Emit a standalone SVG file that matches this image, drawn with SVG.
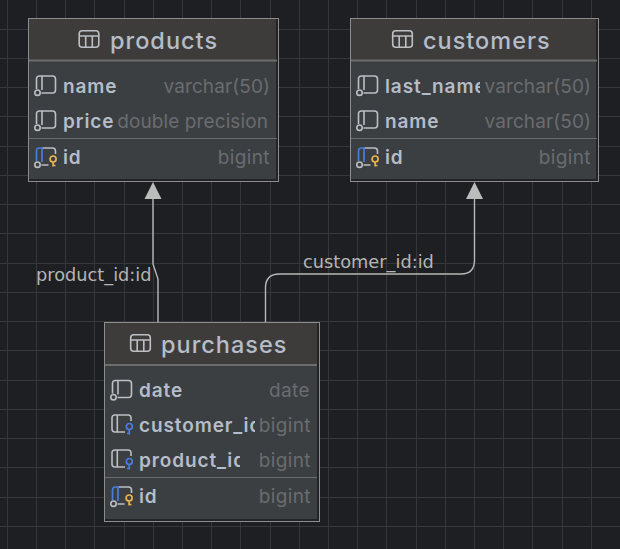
<svg xmlns="http://www.w3.org/2000/svg" width="620" height="549" viewBox="0 0 620 549">
<style>
.grid{stroke:#36373a;stroke-width:1;fill:none}
.box{fill:#3c3f41;stroke:#8c8c8c;stroke-width:1}
.edge{fill:none;stroke:#212326;stroke-width:2}
.head{fill:#3e3c3b}
.hsep{stroke:#6c6c6c;stroke-width:2}
.sep{stroke:#6b6b6b;stroke-width:1}
.title{font:500 23.5px Inter,"Liberation Sans",sans-serif;fill:#b4bdc9;letter-spacing:1px}
.col{font:600 19px Inter,"Liberation Sans",sans-serif;fill:#b4bdc9;letter-spacing:.9px}
.type{font:400 19px Inter,"Liberation Sans",sans-serif;fill:#696c70;text-anchor:end;letter-spacing:.1px}
.wide{letter-spacing:.4px}
.lbl{font:400 17.75px "DejaVu Sans",sans-serif;fill:#b5b5b5}
.conn{fill:none;stroke:#b8b8b8;stroke-width:1.4}
.arrow{fill:#bcbcbc}
.ic{fill:none;stroke:#bcbfc3;stroke-width:1.6}
</style>
<defs>
<g id="tbl"><rect class="ic" x="0.700" y="0.700" width="19.600" height="16.600" rx="3"/><path class="ic" d="M.7 6H20.300M7.200 6V17.300M13.800 6V17.300"/></g>
<g id="col"><path class="ic" d="M0 13V3Q0 0 3 0H16Q19 0 19 3V14Q19 17 16 17H5M5.500 0V14"/><circle class="ic" cx="1" cy="16.700" r="2.700"/></g>
<g id="pk"><path class="ic" d="M6 0H16Q19 0 19 3V6M5 17H12"/><path fill="none" stroke="#4a7de0" stroke-width="1.700" d="M0 13V3Q0 0 3 0H5.500V14"/><circle class="ic" cx="1" cy="16.700" r="2.700"/><circle cx="16.600" cy="11" r="3" fill="none" stroke="#e9b44c" stroke-width="1.700"/><path d="M16.600 14V18.500M16.600 17.500H19" fill="none" stroke="#e9b44c" stroke-width="1.700"/></g>
<g id="fk"><path class="ic" d="M19 6V3Q19 0 16 0H3Q0 0 0 3V14Q0 17 3 17H13M5.300 0V17"/><circle cx="17.300" cy="11.500" r="3" fill="none" stroke="#4a7de0" stroke-width="1.700"/><path d="M17.300 14.500V19.500M17.300 18.500H15" fill="none" stroke="#4a7de0" stroke-width="1.700"/></g>
<clipPath id="c1"><rect x="380" y="70" width="100" height="30"/></clipPath>
<clipPath id="c2"><rect x="135" y="410" width="120" height="30"/></clipPath>
<clipPath id="c3"><rect x="135" y="445" width="105" height="30"/></clipPath>
</defs>
<rect width="620" height="549" fill="#1e1f22"/>
<path class="grid" d="M7.500 0V549M36.500 0V549M65.500 0V549M94.500 0V549M124.500 0V549M153.500 0V549M182.500 0V549M211.500 0V549M240.500 0V549M270.500 0V549M299.500 0V549M328.500 0V549M357.500 0V549M386.500 0V549M416.500 0V549M445.500 0V549M474.500 0V549M503.500 0V549M532.500 0V549M562.500 0V549M591.500 0V549M0 29.500H620M0 58.500H620M0 87.500H620M0 116.500H620M0 146.500H620M0 175.500H620M0 204.500H620M0 233.500H620M0 263.500H620M0 292.500H620M0 321.500H620M0 350.500H620M0 380.500H620M0 409.500H620M0 438.500H620M0 467.500H620M0 497.500H620M0 526.500H620"/>
<g id="connectors">
<path class="conn" d="M158 322V279L153 264V198"/>
<path class="conn" d="M265.500 322V288Q265.500 274 279.500 274H461Q474.500 274 474.500 260V198"/>
<polygon class="arrow" points="153,182 161.500,199 144.500,199"/>
<polygon class="arrow" points="474.500,182 483,199 466,199"/>
<text class="lbl" x="36" y="281">product_id:id</text>
<text class="lbl" x="303" y="268">customer_id:id</text>
</g>
<g id="products">
<rect class="box" x="28.500" y="18.500" width="250" height="163"/>
<rect class="head" x="29" y="19" width="249" height="41"/>
<path class="edge" d="M277 19V180H29"/>
<path class="hsep" d="M29 60.500H277"/>
<path class="sep" d="M29 138.500H277"/>
<use href="#tbl" x="78.500" y="30"/>
<text class="title" x="110" y="49">products</text>
<use href="#col" x="36.500" y="76"/>
<text class="col" x="63" y="93">name</text>
<text class="type" x="270" y="93">varchar(50)</text>
<use href="#col" x="36.500" y="111"/>
<text class="col" x="63" y="128">price</text>
<text class="type" x="268" y="128">double precision</text>
<use href="#pk" x="36.500" y="148"/>
<text class="col" x="63" y="164">id</text>
<text class="type wide" x="270" y="164">bigint</text>
</g>
<g id="customers">
<rect class="box" x="350.500" y="18.500" width="248" height="163"/>
<rect class="head" x="351" y="19" width="247" height="41"/>
<path class="edge" d="M597 19V180H351"/>
<path class="hsep" d="M351 60.500H597"/>
<path class="sep" d="M351 138.500H597"/>
<use href="#tbl" x="392" y="30"/>
<text class="title" x="423" y="49">customers</text>
<use href="#col" x="358.500" y="76"/>
<text class="col" x="385" y="93" clip-path="url(#c1)">last_name</text>
<text class="type" x="591" y="93">varchar(50)</text>
<use href="#col" x="358.500" y="111"/>
<text class="col" x="385" y="128">name</text>
<text class="type" x="591" y="128">varchar(50)</text>
<use href="#pk" x="358.500" y="148"/>
<text class="col" x="385" y="164">id</text>
<text class="type wide" x="591" y="164">bigint</text>
</g>
<g id="purchases">
<rect class="box" x="104.500" y="322.500" width="215" height="199"/>
<rect class="head" x="105" y="323" width="214" height="41"/>
<path class="edge" d="M318 323V520H105"/>
<path class="hsep" d="M105 365H317"/>
<path class="sep" d="M105 477.500H317"/>
<use href="#tbl" x="130" y="334"/>
<text class="title" x="161" y="353">purchases</text>
<use href="#col" x="112.500" y="380.500"/>
<text class="col" x="139" y="397">date</text>
<text class="type wide" x="310" y="397">date</text>
<use href="#fk" x="112" y="415"/>
<text class="col" x="139" y="432" clip-path="url(#c2)">customer_id</text>
<text class="type wide" x="311" y="432">bigint</text>
<use href="#fk" x="112" y="450"/>
<text class="col" x="139" y="467" clip-path="url(#c3)">product_id</text>
<text class="type wide" x="311" y="467">bigint</text>
<use href="#pk" x="112.500" y="487"/>
<text class="col" x="139" y="503">id</text>
<text class="type wide" x="311" y="503">bigint</text>
</g>
</svg>
